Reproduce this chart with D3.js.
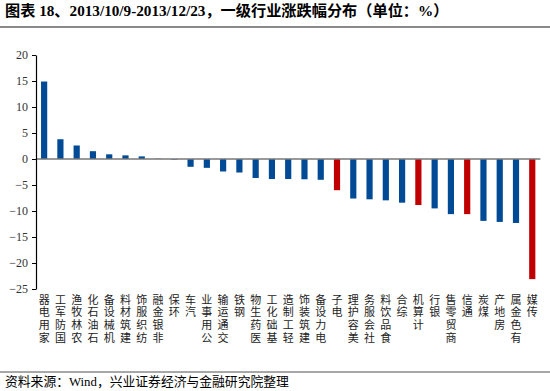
<!DOCTYPE html>
<html>
<head>
<meta charset="utf-8">
<script src="https://cdn.jsdelivr.net/npm/d3@7"></script>
<style>
  body { margin: 0; background: #fff; }
  svg { display: block; }
</style>
</head>
<body>
<script>
// industries, sorted by return over the period
var industries = ["家用电器", "国防军工", "农林牧渔", "石油石化", "机械设备", "建筑材料", "纺织服饰", "非银金融",
  "环保", "汽车", "公用事业", "交通运输", "钢铁", "医药生物", "基础化工", "轻工制造", "建筑装饰", "电力设备",
  "电子", "美容护理", "社会服务", "食品饮料", "综合", "计算机", "银行", "商贸零售", "通信", "煤炭", "房地产",
  "有色金属", "传媒"];

// return (%) per industry
var returns = [14.9, 3.8, 2.6, 1.5, 0.9, 0.7, 0.5, 0.05,
  -0.1, -1.5, -1.7, -2.4, -2.6, -3.65, -3.85, -3.85, -3.9, -4.0,
  -6.0, -7.6, -7.75, -7.95, -8.4, -8.85, -9.5, -10.6, -10.6, -11.9, -12.1,
  -12.3, -23.1];

// TMT industries are drawn in red
var highlighted = ["电子", "计算机", "通信", "传媒"];

var yTicks = [20, 15, 10, 5, 0, -5, -10, -15, -20, -25];

var titleText = "图表 18、2013/10/9-2013/12/23，一级行业涨跌幅分布（单位：%）";
var sourceText = "资料来源：Wind，兴业证券经济与金融研究院整理";

var svg_Width = 550;
var svg_Height = 391;

var margin = { top: 55, right: 10, bottom: 102, left: 36 };
var chart_Width = 540.4 - margin.left;
var chart_Height = 289 - margin.top;

var svg = d3.select("body")
  .append("svg")
  .attr("width", svg_Width)
  .attr("height", svg_Height);

// title and the rule under it
svg.append("text")
  .attr("x", 5)
  .attr("y", 16)
  .style("font-family", "'Liberation Serif', 'Noto Sans CJK SC', serif")
  .style("font-weight", "bold")
  .style("font-size", "15.2px")
  .attr("fill", "#000")
  .text(titleText);

svg.append("line")
  .attr("x1", 0).attr("x2", svg_Width)
  .attr("y1", 27).attr("y2", 27)
  .attr("stroke", "#8a8a8a")
  .attr("stroke-width", 2);

// source line at the bottom
svg.append("line")
  .attr("x1", 0).attr("x2", svg_Width)
  .attr("y1", 372).attr("y2", 372)
  .attr("stroke", "#8a8a8a")
  .attr("stroke-width", 1.5);

svg.append("text")
  .attr("x", 5)
  .attr("y", 386)
  .style("font-family", "'Liberation Serif', 'Noto Sans CJK SC', serif")
  .style("font-size", "12.8px")
  .attr("fill", "#000")
  .text(sourceText);

var chartGroup = svg.append("g")
  .attr("transform", `translate(${margin.left}, ${margin.top})`);

var x = d3.scaleBand()
  .domain(industries)
  .range([0, chart_Width])
  .paddingInner(0.62)
  .paddingOuter(0.31);

var y = d3.scaleLinear()
  .domain([-25, 20])
  .range([chart_Height, 0]);

// bars
chartGroup.selectAll("rect.bar")
  .data(industries)
  .enter()
  .append("rect")
  .attr("class", "bar")
  .attr("x", d => x(d))
  .attr("width", x.bandwidth())
  .attr("y", (d, i) => y(Math.max(0, returns[i])))
  .attr("height", (d, i) => Math.abs(y(returns[i]) - y(0)))
  .attr("fill", d => highlighted.indexOf(d) >= 0 ? "#c00000" : "#004a96");

// zero line
chartGroup.append("line")
  .attr("x1", 0).attr("x2", chart_Width)
  .attr("y1", y(0)).attr("y2", y(0))
  .attr("stroke", "#777")
  .attr("stroke-width", 1.5);

// y axis
var left_Axis = d3.axisLeft(y)
  .tickValues(yTicks)
  .tickSize(4)
  .tickSizeOuter(0)
  .tickPadding(4);

var yAxisG = chartGroup.append("g").call(left_Axis);
yAxisG.select(".domain").attr("stroke", "#000").attr("stroke-width", 1.2);
yAxisG.selectAll(".tick line").attr("stroke", "#000");
yAxisG.selectAll(".tick text")
  .style("font-family", "'Liberation Serif', serif")
  .style("font-size", "12px")
  .attr("fill", "#333");

// category labels: upright characters in a column, last character at the top
chartGroup.append("g")
  .selectAll("text")
  .data(industries)
  .enter()
  .append("text")
  .attr("x", d => x(d) + x.bandwidth() / 2)
  .attr("y", chart_Height + 5)
  .style("writing-mode", "vertical-rl")
  .style("text-orientation", "upright")
  .style("letter-spacing", "1.7px")
  .style("font-family", "'Noto Sans CJK SC', sans-serif")
  .style("font-size", "11px")
  .attr("fill", "#222")
  .text(d => d.split("").reverse().join(""));
</script>
</body>
</html>
